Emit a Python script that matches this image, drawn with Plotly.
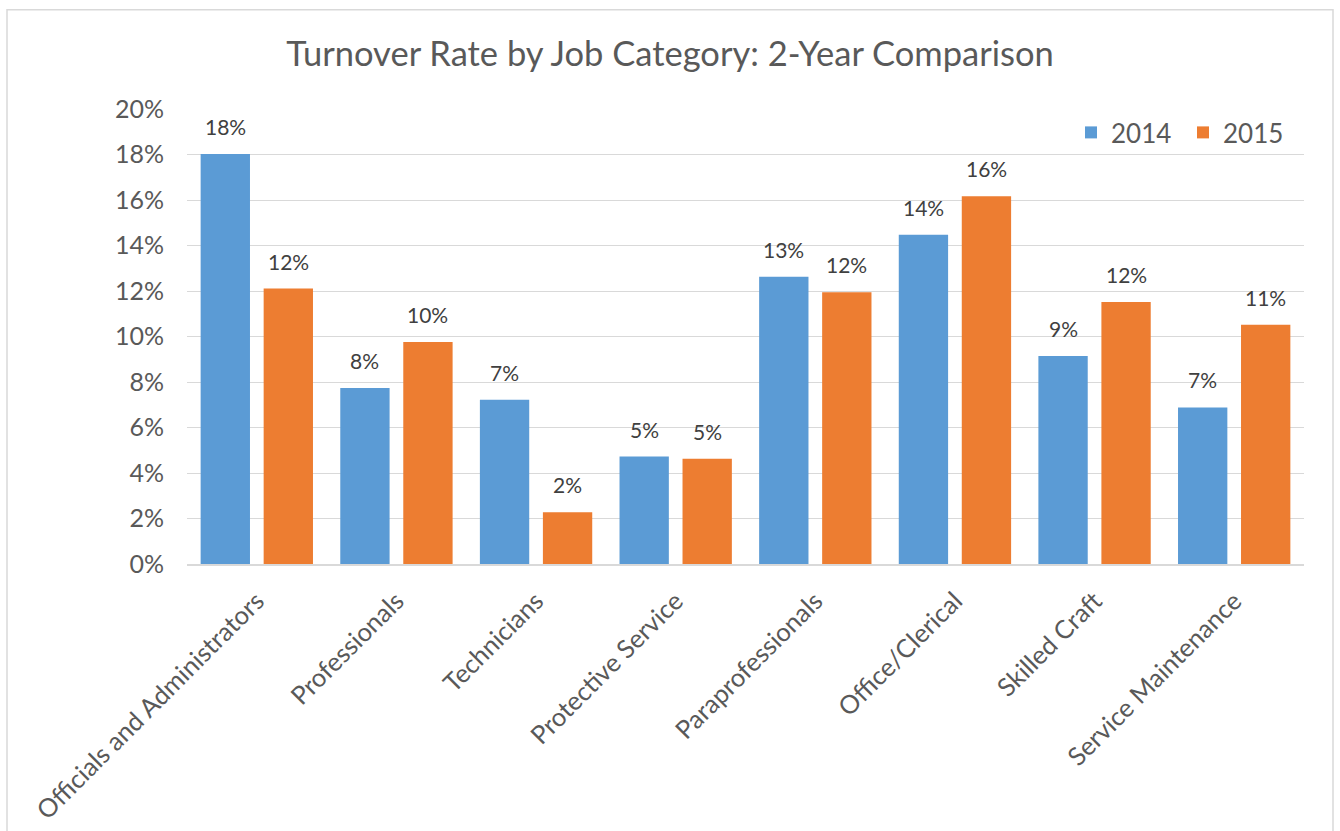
import plotly.graph_objects as go

# Turnover rate by job category, two fiscal years
categories = [
    "Officials and Administrators",
    "Professionals",
    "Technicians",
    "Protective Service",
    "Paraprofessionals",
    "Office/Clerical",
    "Skilled Craft",
    "Service Maintenance",
]
rate_2014 = [0.1802, 0.0774, 0.0722, 0.0472, 0.1263, 0.1447, 0.0914, 0.0688]
rate_2015 = [0.1211, 0.0976, 0.0227, 0.0463, 0.1194, 0.1616, 0.1152, 0.1052]
series = [("2014", rate_2014, "#5B9BD5"), ("2015", rate_2015, "#ED7D31")]

y_ticks = [i / 100 for i in range(0, 21, 2)]

FONT = "Lato, 'Open Sans', sans-serif"
GREY = "#595959"

fig = go.Figure()
for name, vals, color in series:
    fig.add_trace(go.Bar(
        x=categories, y=vals, name=name,
        marker=dict(color=color, line=dict(width=0)),
        hoverinfo="x+y",
    ))

# value labels above each bar, offset to the bar's slot within its group
slot_px = 63
annotations = []
for k, (name, vals, color) in enumerate(series):
    shift = (k - 0.5) * slot_px
    for cat, v in zip(categories, vals):
        annotations.append(dict(
            x=cat, y=v, xref="x", yref="y",
            text=f"{round(v * 100):.0f}%",
            showarrow=False, yanchor="bottom", xanchor="center",
            xshift=shift, yshift=13,
            font=dict(family=FONT, size=21, color="#404040"),
        ))

fig.update_layout(
    width=1340, height=831,
    margin=dict(l=187, r=36, t=109, b=267, autoexpand=False),
    paper_bgcolor="white", plot_bgcolor="white",
    barmode="group", bargap=0.0975, bargroupgap=0.217,
    font=dict(family=FONT, color=GREY),
    title=dict(
        text="Turnover Rate by Job Category: 2-Year Comparison",
        x=0.5, xref="container", xanchor="center",
        y=1 - 54 / 831, yref="container", yanchor="middle",
        font=dict(family=FONT, size=34.5, color=GREY),
    ),
    legend=dict(
        orientation="h", x=0.7914, xanchor="left", y=1.0, yanchor="top",
        xref="paper", yref="paper", entrywidth=67,
        font=dict(family=FONT, size=26, color=GREY),
        bgcolor="rgba(0,0,0,0)", traceorder="normal",
    ),
    annotations=annotations,
    shapes=[dict(
        type="rect", xref="paper", yref="paper",
        x0=(7 - 187) / 1117, x1=(1333 - 187) / 1117,
        y0=-0.62, y1=(564.3 - 10) / 455,
        line=dict(color="#D9D9D9", width=1.5), layer="below",
    )],
)

fig.update_xaxes(
    type="category", tickangle=-45, showgrid=False,
    showline=True, linecolor="#D9D9D9", linewidth=2,
    ticks="", ticklabelstandoff=10,
    tickfont=dict(family=FONT, size=25.5, color=GREY),
    automargin=False,
)
fig.update_yaxes(
    range=[0, 0.2], tickvals=y_ticks, tickformat=".0%",
    showgrid=True, gridcolor="#D9D9D9", gridwidth=1.3,
    zeroline=False, showline=False, ticks="", ticklabelstandoff=22,
    tickfont=dict(family=FONT, size=25, color=GREY),
    automargin=False,
)

fig.write_html("out.html")
